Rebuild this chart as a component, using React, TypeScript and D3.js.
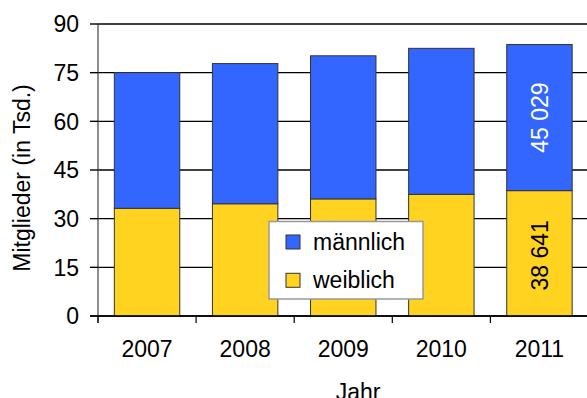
import React from "react";
import * as d3 from "d3";

const years = ["2007", "2008", "2009", "2010", "2011"];
const weiblich = [33.2, 34.6, 36.1, 37.5, 38.641];
const maennlich = [41.8, 43.2, 44.1, 45.0, 45.029];
const yTicks = [0, 15, 30, 45, 60, 75, 90];
const labelWeiblich = "38 641";
const labelMaennlich = "45 029";
const seriesNames = ["männlich", "weiblich"];

const W = 587;
const H = 398;
const left = 98;
const right = 588.5;
const top = 24;
const bottom = 316;
const FONT = "'Liberation Sans', Arial, sans-serif";
const BLUE = "#3366FF";
const YELLOW = "#FFD320";

export default function App() {
  const x = d3
    .scaleBand<string>()
    .domain(years)
    .range([left, right])
    .paddingInner(0.333)
    .paddingOuter(0.1665);
  const y = d3.scaleLinear().domain([0, 90]).range([bottom, top]);
  const step = x.step();
  const boundaries = d3.range(years.length + 1).map((i) => left + i * step);
  const last = years.length - 1;
  const lx = (x(years[last]) as number) + x.bandwidth() / 2;

  return (
    <svg
      width={W}
      height={H}
      style={{ position: "absolute", left: 0, top: 0, background: "#fff" }}
      fontFamily={FONT}
    >
      {/* grid lines */}
      {yTicks.map((t) => (
        <line
          key={"g" + t}
          x1={left}
          x2={W}
          y1={y(t)}
          y2={y(t)}
          stroke="#000"
          strokeWidth={1.4}
        />
      ))}
      {/* bars */}
      {years.map((yr, i) => (
        <g key={yr}>
          <rect
            x={x(yr)}
            width={x.bandwidth()}
            y={y(weiblich[i])}
            height={y(0) - y(weiblich[i])}
            fill={YELLOW}
            stroke="#333"
            strokeWidth={1}
          />
          <rect
            x={x(yr)}
            width={x.bandwidth()}
            y={y(weiblich[i] + maennlich[i])}
            height={y(weiblich[i]) - y(weiblich[i] + maennlich[i])}
            fill={BLUE}
            stroke="#333"
            strokeWidth={1}
          />
        </g>
      ))}
      {/* axes */}
      <line x1={left} x2={left} y1={top} y2={bottom + 7} stroke="#444" strokeWidth={1.2} />
      <line x1={left - 8} x2={W} y1={bottom} y2={bottom} stroke="#000" strokeWidth={1.4} />
      {yTicks.map((t) => (
        <g key={"yt" + t}>
          <line x1={left - 8} x2={left} y1={y(t)} y2={y(t)} stroke="#000" strokeWidth={1.4} />
          <text
            x={79}
            y={y(t)}
            dy="0.36em"
            textAnchor="end"
            fontSize={23}
            fill="#000"
          >
            {t}
          </text>
        </g>
      ))}
      {boundaries.map((b, i) => (
        <line key={"xt" + i} x1={b} x2={b} y1={bottom} y2={bottom + 7} stroke="#000" strokeWidth={1.2} />
      ))}
      {years.map((yr) => (
        <text
          key={"xl" + yr}
          x={(x(yr) as number) + x.bandwidth() / 2}
          y={357}
          textAnchor="middle"
          fontSize={23}
          fill="#000"
        >
          {yr}
        </text>
      ))}
      <text x={358} y={400} textAnchor="middle" fontSize={23} fill="#000">
        Jahr
      </text>
      <text
        transform={`translate(30,178) rotate(-90)`}
        textAnchor="middle"
        fontSize={23}
        fill="#000"
      >
        Mitglieder (in Tsd.)
      </text>
      {/* data labels */}
      <text
        transform={`translate(${lx},${(y(weiblich[last] + maennlich[last]) + y(weiblich[last])) / 2}) rotate(-90)`}
        textAnchor="middle"
        dy="0.36em"
        fontSize={23}
        fill="#fff"
      >
        {labelMaennlich}
      </text>
      <text
        transform={`translate(${lx},${(y(weiblich[last]) + y(0)) / 2 + 2}) rotate(-90)`}
        textAnchor="middle"
        dy="0.36em"
        fontSize={23}
        fill="#000"
      >
        {labelWeiblich}
      </text>
      {/* legend */}
      <g>
        <rect x={269} y={221.5} width={154} height={77.5} fill="#fff" stroke="#999" strokeWidth={1.5} />
        {seriesNames.map((n, i) => (
          <g key={n}>
            <rect
              x={286}
              y={235 + i * 38.3}
              width={14}
              height={14}
              fill={i === 0 ? BLUE : YELLOW}
              stroke="#333"
              strokeWidth={1}
            />
            <text x={313} y={250 + i * 38} fontSize={23} fill="#000">
              {n}
            </text>
          </g>
        ))}
      </g>
    </svg>
  );
}
